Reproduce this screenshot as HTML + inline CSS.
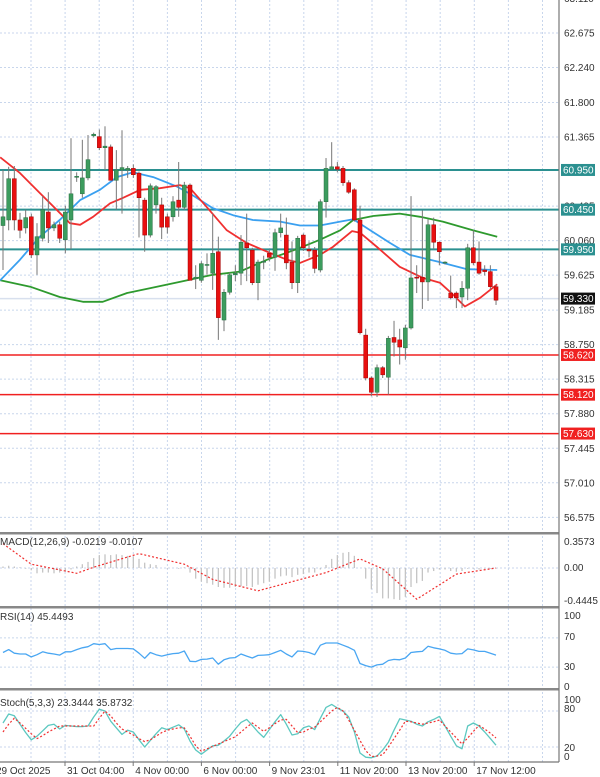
<!DOCTYPE html>
<html><head><meta charset="utf-8">
<style>
html,body{margin:0;padding:0;background:#fff;}
svg{display:block;font-family:"Liberation Sans",sans-serif;}
</style></head>
<body>
<svg id="chart" width="600" height="777" viewBox="0 0 600 777" xmlns="http://www.w3.org/2000/svg">
<rect x="0" y="0" width="600" height="777" fill="#fff"/>
<g id="grid"></g>
<g id="levels"></g>
<g id="ma"></g>
<g id="candles"></g>
<g id="ind"></g>
<g id="axes"></g>
</svg>
<script>
// ---- data ----
const opens  = [60.25,60.32,60.84,60.32,60.22,60.36,59.88,60.09,60.42,60.22,60.26,60.07,60.32,60.86,60.65,60.85,61.38,61.37,61.23,61.24,60.82,60.95,60.95,60.97,60.91,60.57,60.13,60.51,60.51,60.36,60.36,60.57,60.48,60.76,59.58,59.56,59.75,59.65,59.92,59.06,59.41,59.63,59.65,60.03,59.94,59.53,59.79,59.90,59.85,60.16,60.13,59.79,59.53,60.13,59.95,59.94,59.69,60.55,60.96,60.99,60.97,60.79,60.70,60.32,58.87,58.33,58.15,58.46,58.34,58.84,58.81,58.71,58.96,59.60,59.60,59.54,60.26,60.04,59.78,59.40,59.40,59.35,59.46,59.97,59.79,59.69,59.67,59.48];
const closes = [60.36,60.84,60.32,60.19,60.35,59.88,60.11,60.45,60.22,60.26,60.09,60.42,60.65,60.87,60.85,61.08,61.40,61.23,61.25,60.82,60.95,60.98,60.97,60.89,60.60,60.13,60.75,60.74,60.23,60.23,60.55,60.48,60.76,59.56,59.60,59.77,59.76,59.90,59.09,59.41,59.63,59.65,60.04,59.97,59.53,59.79,59.80,59.85,60.16,60.22,59.78,59.53,60.09,59.97,59.93,59.71,60.55,60.97,60.99,60.96,60.79,60.67,60.32,58.90,58.33,58.15,58.46,58.37,58.83,58.78,58.72,58.96,59.59,59.59,59.54,60.26,60.04,59.92,59.79,59.34,59.34,59.46,59.97,59.78,59.65,59.67,59.48,59.31];
const highs  = [60.95,60.99,61.00,60.41,60.45,60.40,60.28,60.62,60.67,60.30,60.30,60.50,61.35,60.92,61.33,61.39,61.42,61.46,61.50,61.27,61.20,61.45,61.00,61.02,60.93,60.60,60.78,60.76,60.60,60.40,60.62,61.05,60.80,60.78,59.75,59.80,59.90,60.40,60.11,59.45,59.66,59.75,60.13,60.40,59.97,59.82,59.87,59.95,60.21,60.40,60.35,60.05,60.12,60.15,60.05,59.98,60.58,61.10,61.30,61.05,61.00,60.82,60.72,60.50,58.95,58.35,58.50,58.48,58.86,59.05,58.95,59.00,60.62,59.75,60.44,60.33,60.35,60.05,59.80,59.62,59.42,59.55,60.02,60.19,60.05,59.75,59.75,59.50];
const lows   = [59.69,60.19,60.19,60.09,60.15,59.84,59.63,60.05,60.03,60.18,60.03,59.90,59.95,60.80,60.60,60.82,61.36,61.20,60.95,60.82,60.45,60.40,60.85,60.85,60.10,59.92,60.10,60.40,60.08,60.15,60.30,60.36,60.45,59.56,59.45,59.53,59.63,59.44,58.81,58.92,59.38,59.55,59.50,59.55,59.50,59.31,59.70,59.80,59.68,60.10,59.70,59.45,59.40,59.93,59.85,59.65,59.66,60.35,60.95,60.92,60.75,60.65,60.30,58.88,58.30,58.10,58.09,58.33,58.12,58.60,58.50,58.56,58.94,59.40,59.20,59.30,59.95,59.75,59.76,59.32,59.21,59.21,59.31,59.75,59.63,59.62,59.45,59.25];
// moving averages: anchor candle index + price
const maRedIdx   = [-0.5,3,6.5,10,11.8,13.6,15.9,18.9,21.2,24.2,27.7,31.2,33,36,39.5,43,46.6,50.1,52.4,55.9,58.2,61.6,63,66,70,74.1,77.1,79.4,81.5,84.2,87.2];
const maRedVal   = [61.11,60.91,60.66,60.41,60.28,60.26,60.36,60.53,60.60,60.70,60.72,60.76,60.72,60.48,60.19,60.03,59.92,59.82,59.78,59.88,59.98,60.18,60.16,59.98,59.73,59.59,59.53,59.38,59.23,59.34,59.51];
const maBlueIdx  = [-0.5,3,6.5,10,13.6,17.1,20.1,22.9,26.5,30.7,33.5,37,40.6,44.1,48.9,52.4,55.9,59.5,61.8,64.8,68.3,71.8,77.1,81.9,87.2];
const maBlueVal  = [59.56,59.82,60.11,60.32,60.57,60.70,60.86,60.92,60.86,60.74,60.63,60.47,60.38,60.32,60.30,60.25,60.25,60.30,60.33,60.19,60.03,59.88,59.79,59.70,59.69];
const maGreenIdx = [-0.5,4.8,10,14.1,17.6,21.9,25.9,31.2,37,41.8,46.6,50.6,52.4,55.9,59.5,61.8,65.3,70,73.6,77.6,82.9,87.2];
const maGreenVal = [59.56,59.48,59.35,59.29,59.29,59.40,59.46,59.54,59.63,59.67,59.82,59.92,59.97,60.07,60.19,60.32,60.37,60.40,60.36,60.30,60.19,60.11];
// horizontal levels
const tealLevels = [60.950,60.450,59.950];
const redLevels  = [58.620,58.120,57.630];
const lastPrice = 59.330;
const priceTicks = [63.110,62.675,62.240,61.800,61.365,60.495,60.060,59.625,59.185,58.750,58.315,57.880,57.445,57.010,56.575];
// MACD
const macdHist = [0.02,0.03,0.02,0.01,-0.01,-0.03,-0.07,-0.06,-0.06,-0.07,-0.06,-0.05,-0.02,0.02,0.05,0.08,0.13,0.17,0.18,0.17,0.18,0.17,0.16,0.15,0.12,0.07,0.05,0.04,0.0,-0.01,0.0,-0.01,0.01,-0.06,-0.14,-0.18,-0.20,-0.22,-0.25,-0.26,-0.26,-0.25,-0.24,-0.24,-0.25,-0.22,-0.20,-0.18,-0.14,-0.11,-0.10,-0.12,-0.09,-0.08,-0.06,-0.06,-0.02,0.04,0.12,0.17,0.20,0.21,0.16,0.0,-0.14,-0.28,-0.33,-0.40,-0.40,-0.41,-0.42,-0.38,-0.25,-0.20,-0.17,-0.06,-0.04,-0.02,-0.02,-0.04,-0.05,-0.04,-0.01,-0.01,-0.02,-0.01,-0.01,-0.01];
const macdSigIdx = [0,5,13,16,24,32,37,45,57,63,67,73,80,87];
const macdSigVal = [0.32,0.05,-0.07,0.01,0.19,0.05,-0.15,-0.30,-0.06,0.12,-0.01,-0.41,-0.08,0.0];
// RSI
const rsiVals = [50,54,49,48,48,44,47,51,49,48,46.5,51,51,54,56.5,58,62,61,62,54,55.5,55.5,55.5,55,49,42,50,47,45,47,48.5,49,52,38,37.5,40.5,41,42.5,34,40,42.5,43,48,45,42.5,46,46.5,47,50,53,48,44,52,51.5,50,47,60,63,63,63,60,57,53,35,32,30,33,34,39,40.5,40,42.5,50,51,51.5,58.5,56.5,55,53,49,48,48.5,55,53.5,51.5,51.5,49,46.5];
// Stochastic
const stochK = [60,75,72,58,44,32,38,47,56,58,50,56,55,54,54,55,70,83,80,63,52,41,48,45,32,20,31,42,52,49,53,57,50,30,15,8,15,22,23,30,38,50,61,66,56,45,36,49,62,74,58,40,42,52,55,49,68,86,91,85,80,70,45,10,3,2,5,15,28,48,67,65,63,58,55,62,66,71,55,38,22,17,55,60,55,45,34,23];
const stochD = [45,58,68,60,51,42,34,39,45,50,55,55,55,55,55,55,55,68,80,72,60,50,45,40,34,29,32,38,44,48,50,52,52,38,22,13,17,21,25,29,33,37,45,53,60,53,46,52,59,65,66,55,44,45,50,53,62,71,80,86,80,65,48,31,14,4,5,7,20,34,48,63,62,60,58,60,62,65,55,45,35,25,35,46,56,50,43,35];
// dates
const dateLabels = ["29 Oct 2025","31 Oct 04:00","4 Nov 00:00","6 Nov 00:00","9 Nov 23:01","11 Nov 20:00","13 Nov 20:00","17 Nov 12:00"];

// ---- scales ----
const NS="http://www.w3.org/2000/svg";
const AX=559;
const xOf = i => 3 + i*5.667;
const yP = p => 33 + (62.675 - p)*79.4;
const yM = v => 568 - v*76;
const yR = v => 616 + (100 - v)*0.73;
const yS = v => 759 - v*0.6;
function mk(tag, attrs, parent){const e=document.createElementNS(NS,tag);for(const k in attrs)e.setAttribute(k,attrs[k]);parent.appendChild(e);return e;}
const G=id=>document.getElementById(id);

// grid
const grid=G('grid');
for(let gx=31; gx<AX; gx+=34.1){
  const l=mk('line',{x1:gx,x2:gx,y1:0,y2:762,stroke:'#c8d6ec','stroke-width':1,'stroke-dasharray':'2,2'},grid);
  
  
}
priceTicks.forEach(p=>{
  const l=mk('line',{x1:0,x2:AX,y1:yP(p),y2:yP(p),stroke:'#c8d6ec','stroke-width':1,'stroke-dasharray':'2,2'},grid);
  
  
});
[[yM(0)],[yR(70)],[yR(30)],[yS(80)],[yS(20)]].forEach(a=>{
  const l=mk('line',{x1:0,x2:AX,y1:a[0],y2:a[0],stroke:'#c8d6ec','stroke-width':1,'stroke-dasharray':'2,2'},grid);
  
  
});

// levels
const lv=G('levels');
const lp=mk('line',{x1:0,x2:AX,y1:yP(lastPrice),y2:yP(lastPrice),stroke:'#d8e0ee','stroke-width':1.5},lv);


tealLevels.forEach(p=>{
  const l=mk('line',{x1:0,x2:AX,y1:yP(p),y2:yP(p),stroke:'#2b9090','stroke-width':2},lv);
  
  
});
redLevels.forEach(p=>{
  const l=mk('line',{x1:0,x2:AX,y1:yP(p),y2:yP(p),stroke:'#f02020','stroke-width':1.5},lv);
  
  
});

// moving averages
const ma=G('ma');
function poly(idx,vals,yf,color,w,dash,name,parent){
  const pts=idx.map((i,k)=>xOf(i).toFixed(1)+','+yf(vals[k]).toFixed(1)).join(' ');
  const e=mk('polyline',{points:pts,fill:'none',stroke:color,'stroke-width':w,'stroke-linejoin':'round'},parent);
  if(dash)e.setAttribute('stroke-dasharray',dash);
  
  
  return e;
}
poly(maGreenIdx,maGreenVal,yP,'#2e9a2e',1.8,null,'ma-slow-green',ma);
poly(maBlueIdx,maBlueVal,yP,'#3aa0f0',1.8,null,'ma-medium-blue',ma);
poly(maRedIdx,maRedVal,yP,'#f03030',1.8,null,'ma-fast-red',ma);

// candles
const cg=G('candles');
opens.forEach((o,i)=>{
  const c=closes[i], x=xOf(i), up=c>=o;
  const w=mk('line',{x1:x,x2:x,y1:yP(highs[i]),y2:yP(lows[i]),stroke:'#777','stroke-width':1},cg);
  
  
  const top=yP(Math.max(o,c)), h=Math.max(1,Math.abs(yP(o)-yP(c)));
  const b=mk('rect',{x:x-2,y:top,width:4,height:h,fill:up?'#3c9c5e':'#e81010',stroke:up?'#2a6e42':'#a00000','stroke-width':0.5},cg);
  
  
});

// indicators
const ind=G('ind');
macdHist.forEach((v,i)=>{
  const x=xOf(i);
  const b=mk('line',{x1:x,x2:x,y1:yM(0),y2:yM(v),stroke:'#c4c4c4','stroke-width':1.3},ind);
  
  
});
poly(macdSigIdx,macdSigVal,yM,'#f03030',1.2,'2,2','macd-signal-line',ind);
const allIdx=rsiVals.map((v,i)=>i);
poly(allIdx,rsiVals,yR,'#49a6f2',1.3,null,'rsi-line',ind);
poly(allIdx,stochK,yS,'#5cc8c0',1.3,null,'stoch-k-line',ind);
poly(allIdx,stochD,yS,'#f03030',1.2,'2,2','stoch-d-line',ind);

// axes and labels
const ax=G('axes');
function txt(s,x,y,opts,name){
  const t=mk('text',Object.assign({x:x,y:y,'font-size':10,fill:'#333'},opts||{}),ax);
  t.textContent=s;
  
  
  return t;
}
// panel separators
[[532],[606],[688]].forEach(a=>{
  const r=mk('rect',{x:0,y:a[0],width:AX,height:2.5,fill:'#888'},ax);
  
  
});
const va=mk('line',{x1:AX,x2:AX,y1:0,y2:762,stroke:'#777','stroke-width':1.2},ax);


const ha=mk('line',{x1:0,x2:AX,y1:762,y2:762,stroke:'#777','stroke-width':1.2},ax);


priceTicks.forEach(p=>txt(p.toFixed(3),564,yP(p)+3.5,{},'price-tick-label'));
function boxLabel(p,bg,fg,name){
  const y=yP(p);
  const r=mk('rect',{x:561,y:y-6,width:34,height:12,fill:bg},ax);
  
  
  txt(p.toFixed(3),563,y+3.5,{fill:fg},name);
}
tealLevels.forEach(p=>boxLabel(p,'#2b9090','#fff','resistance-label'));
redLevels.forEach(p=>boxLabel(p,'#f02020','#fff','support-label'));
boxLabel(lastPrice,'#111','#fff','last-price-label');
// indicator axis labels
txt('0.3573',564,545,{},'macd-tick-label');
txt('0.00',564,571,{},'macd-tick-label');
txt('-0.4445',564,604,{},'macd-tick-label');
txt('100',564,619,{},'rsi-tick-label');
txt('70',564,640,{},'rsi-tick-label');
txt('30',564,670,{},'rsi-tick-label');
txt('0',564,690,{},'rsi-tick-label');
txt('100',564,703,{},'stoch-tick-label');
txt('80',564,712,{},'stoch-tick-label');
txt('20',564,751,{},'stoch-tick-label');
txt('0',564,760,{},'stoch-tick-label');
txt('MACD(12,26,9) -0.0219 -0.0107',0,545,{},'macd-title');
txt('RSI(14) 45.4493',0,620,{},'rsi-title');
txt('Stoch(5,3,3) 23.3444 35.8732',0,706,{},'stoch-title');
dateLabels.forEach((s,k)=>{
  const x=(k===0?-4:65+68.2*(k-1)+2);
  txt(s,x,774,{},'date-label');
  if(k>0){
    const t=mk('line',{x1:x-2,x2:x-2,y1:762,y2:766,stroke:'#777'},ax);
    
    
  }
});
</script>
</body></html>
